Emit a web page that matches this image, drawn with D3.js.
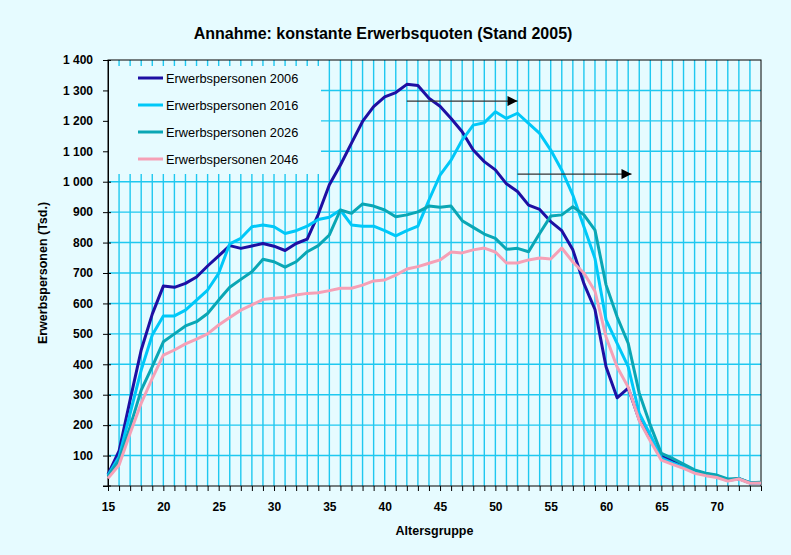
<!DOCTYPE html>
<html lang="de">

<head>
    <meta charset="utf-8">
    <title>Erwerbspersonen nach Alter</title>
    <script src="https://cdn.jsdelivr.net/npm/d3@7"></script>
    <style>
        body {
            margin: 0;
            background: #e6fbff;
        }
        svg text {
            font-family: "Liberation Sans", Arial, sans-serif;
        }
        .grid line {
            stroke: #1ec8f0;
            stroke-width: 1.4px;
        }
        .axis path,
        .axis line {
            stroke: black;
            fill: none;
        }
        .axis text {
            font-size: 12px;
            font-weight: bold;
            fill: black;
        }
        .series {
            fill: none;
            stroke-width: 3px;
            stroke-linejoin: round;
        }
    </style>
</head>

<body>
    <script>
        // Altersgruppen 15..74
        const ages = [15, 16, 17, 18, 19, 20, 21, 22, 23, 24, 25, 26, 27, 28, 29, 30, 31, 32, 33, 34,
            35, 36, 37, 38, 39, 40, 41, 42, 43, 44, 45, 46, 47, 48, 49, 50, 51, 52, 53, 54,
            55, 56, 57, 58, 59, 60, 61, 62, 63, 64, 65, 66, 67, 68, 69, 70, 71, 72, 73, 74];

        // Erwerbspersonen in Tsd.
        const ep2006 = [38, 115, 283, 447, 565, 657, 653, 666, 687, 723,
            756, 790, 781, 789, 797, 788, 774, 797, 811, 893,
            990, 1055, 1127, 1198, 1247, 1279, 1293, 1320, 1316, 1274,
            1248, 1208, 1164, 1104, 1066, 1039, 993, 968, 923, 909,
            869, 839, 776, 665, 580, 392, 290, 322, 218, 153,
            97, 83, 68, 50, 40, 34, 20, 24, 10, 11];
        const ep2016 = [35, 96, 239, 381, 496, 559, 559, 578, 611, 644,
            699, 796, 814, 852, 858, 852, 830, 839, 854, 876,
            883, 907, 858, 854, 854, 839, 822, 839, 854, 940,
            1022, 1071, 1137, 1186, 1194, 1230, 1208, 1225, 1192, 1159,
            1104, 1038, 956, 852, 748, 546, 469, 392, 239, 168,
            92, 76, 62, 46, 37, 31, 18, 24, 10, 11];
        const ep2026 = [31, 85, 195, 315, 392, 474, 500, 526, 540, 567,
            611, 653, 679, 704, 745, 737, 719, 737, 770, 790,
            825, 907, 896, 927, 920, 907, 885, 891, 901, 920,
            916, 920, 872, 850, 828, 814, 778, 781, 770, 830,
            887, 891, 918, 891, 841, 661, 556, 469, 305, 200,
            107, 91, 72, 53, 42, 36, 23, 25, 11, 12];
        const ep2046 = [25, 69, 173, 272, 354, 430, 447, 467, 483, 500,
            529, 554, 578, 595, 613, 617, 620, 628, 633, 635,
            642, 650, 650, 660, 674, 677, 693, 713, 721, 732,
            743, 769, 766, 776, 782, 769, 733, 733, 743, 749,
            746, 782, 736, 700, 640, 490, 391, 325, 215, 148,
            85, 71, 58, 42, 34, 28, 16, 23, 9, 10];

        const seriesNames = ["Erwerbspersonen 2006", "Erwerbspersonen 2016",
            "Erwerbspersonen 2026", "Erwerbspersonen 2046"];
        const seriesColors = ["#1e0fa3", "#00c8f8", "#0aa6b4", "#f6a0b6"];
        const yTicks = [100, 200, 300, 400, 500, 600, 700, 800, 900, 1000, 1100, 1200, 1300, 1400];
        const xLabels = [15, 20, 25, 30, 35, 40, 45, 50, 55, 60, 65, 70];

        // shift arrows: [from age, to age, value]
        const arrows = [[42, 52, 1265], [52, 62.3, 1025]];

        const width = 791,
            height = 555;
        const pL = 108, pR = 761, pT = 60, pB = 486;

        const x = d3.scaleLinear().domain([15, 74]).range([pL, pR]);
        const y = d3.scaleLinear().domain([0, 1400]).range([pB, pT]);

        const svg = d3.select("body").append("svg")
            .attr("width", width)
            .attr("height", height);

        svg.append("rect")
            .attr("width", width)
            .attr("height", height)
            .attr("fill", "#e6fbff");

        // grid
        const grid = svg.append("g").attr("class", "grid");
        grid.selectAll(".v")
            .data(ages.filter(a => a > 15 && a < 74))
            .join("line")
            .attr("class", "v")
            .attr("x1", d => x(d)).attr("x2", d => x(d))
            .attr("y1", pT).attr("y2", pB);
        grid.selectAll(".h")
            .data(yTicks.filter(v => v < 1400))
            .join("line")
            .attr("class", "h")
            .attr("x1", pL).attr("x2", pR)
            .attr("y1", d => y(d)).attr("y2", d => y(d));

        // axes
        const yAxis = d3.axisLeft(y)
            .tickValues(yTicks)
            .tickSize(5)
            .tickPadding(10)
            .tickFormat(d => d3.format(",")(d).replace(",", " "));
        svg.append("g")
            .attr("class", "y axis")
            .attr("transform", `translate(${pL}, 0)`)
            .call(yAxis)
            .call(g => g.selectAll(".tick line").attr("x2", -5).attr("x1", 3));
        svg.append("line")
            .attr("x1", pL - 5).attr("x2", pL + 3)
            .attr("y1", pB).attr("y2", pB)
            .attr("stroke", "black");

        const xAxis = d3.axisBottom(x)
            .tickValues(ages)
            .tickSize(5)
            .tickPadding(11)
            .tickFormat(d => xLabels.includes(d) ? d : "");
        svg.append("g")
            .attr("class", "x axis")
            .attr("transform", `translate(0, ${pB})`)
            .call(xAxis)
            .call(g => g.select(".domain").remove());

        // plot frame
        svg.append("rect")
            .attr("x", pL).attr("y", pT)
            .attr("width", pR - pL).attr("height", pB - pT)
            .attr("fill", "none")
            .attr("stroke", "black");

        // legend box hides the grid
        const legend = svg.append("g");
        legend.append("rect")
            .attr("x", pL + 1).attr("y", 66)
            .attr("width", 212).attr("height", 108)
            .attr("fill", "#e6fbff");
        const items = legend.selectAll("g")
            .data(seriesNames)
            .join("g")
            .attr("transform", (d, i) => `translate(138, ${78 + i * 27})`);
        items.append("line")
            .attr("x1", 0).attr("x2", 25)
            .attr("stroke", (d, i) => seriesColors[i])
            .attr("stroke-width", 3);
        items.append("text")
            .attr("x", 28).attr("y", 4.5)
            .attr("font-size", "12.8px")
            .text(d => d);

        // lines
        const line = d3.line()
            .x((d, i) => x(ages[i]))
            .y(d => y(d));
        svg.selectAll(".series")
            .data([ep2006, ep2016, ep2026, ep2046])
            .join("path")
            .attr("class", "series")
            .attr("stroke", (d, i) => seriesColors[i])
            .attr("d", line);

        // arrows
        svg.append("defs").append("marker")
            .attr("id", "head")
            .attr("viewBox", "0 0 10 10")
            .attr("refX", 10).attr("refY", 5)
            .attr("markerWidth", 12).attr("markerHeight", 10)
            .attr("markerUnits", "userSpaceOnUse")
            .attr("orient", "auto")
            .append("path")
            .attr("d", "M0,0 L10,5 L0,10 Z")
            .attr("fill", "black");
        svg.selectAll(".arrow")
            .data(arrows)
            .join("line")
            .attr("class", "arrow")
            .attr("x1", d => x(d[0])).attr("x2", d => x(d[1]))
            .attr("y1", d => y(d[2])).attr("y2", d => y(d[2]))
            .attr("stroke", "#333")
            .attr("stroke-width", 1.2)
            .attr("marker-end", "url(#head)");

        // titles
        svg.append("text")
            .attr("x", 383).attr("y", 39)
            .attr("text-anchor", "middle")
            .attr("font-size", "16px")
            .attr("font-weight", "bold")
            .text("Annahme: konstante Erwerbsquoten (Stand 2005)");
        svg.append("text")
            .attr("x", (pL + pR) / 2).attr("y", 535)
            .attr("text-anchor", "middle")
            .attr("font-size", "12.5px")
            .attr("font-weight", "bold")
            .text("Altersgruppe");
        svg.append("text")
            .attr("transform", `translate(47, ${(pT + pB) / 2}) rotate(-90)`)
            .attr("text-anchor", "middle")
            .attr("font-size", "12.5px")
            .attr("font-weight", "bold")
            .text("Erwerbspersonen (Tsd.)");
    </script>
</body>

</html>
